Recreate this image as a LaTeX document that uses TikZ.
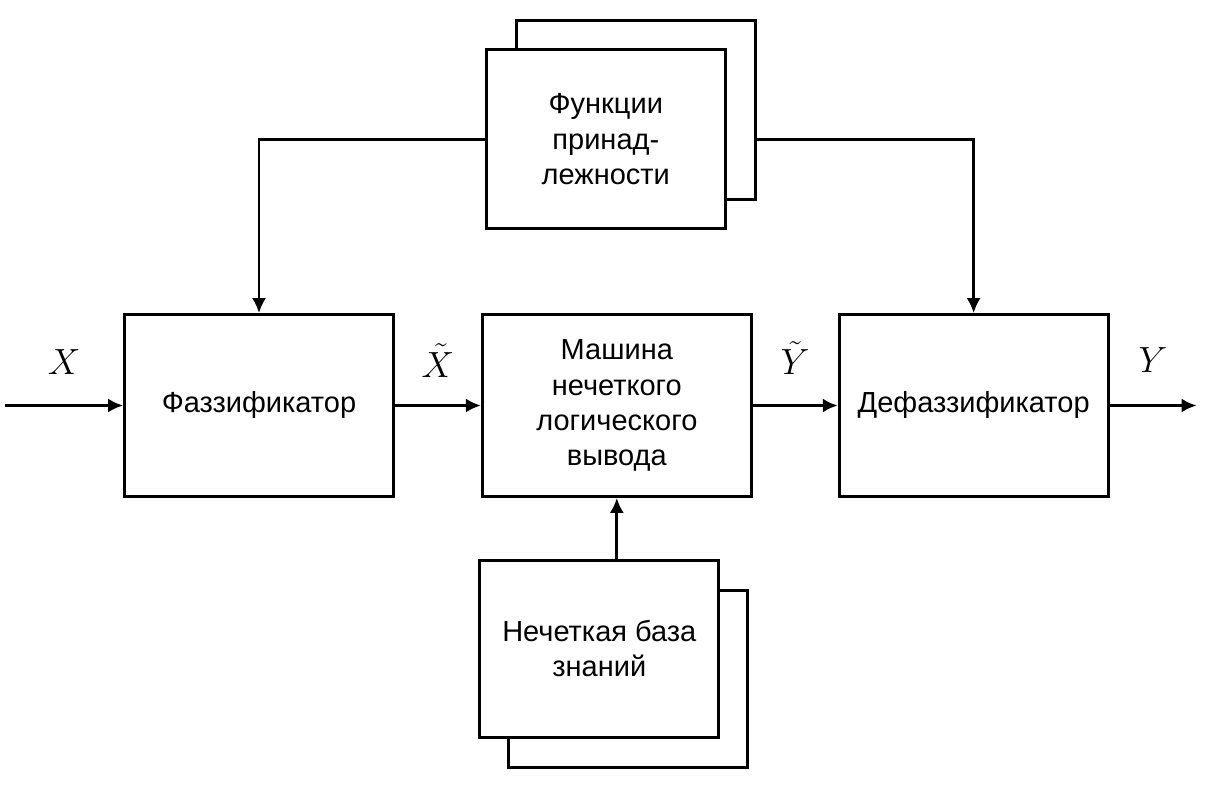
\documentclass[tikz,border=0pt]{standalone}
\usepackage{fontspec}
\setmainfont{Liberation Sans}
\usepackage{tikz}
\usetikzlibrary{arrows.meta,calc,positioning,shadows}

\begin{document}
\begin{tikzpicture}[>={Latex[length=8.5pt,width=8pt]},line width=1.6pt,
	block/.style={draw,fill=white,minimum width=5.38cm,minimum height=3.64cm,align=center,
		font=\fontsize{16.5}{20}\selectfont},
	stack/.style={block,minimum width=4.78cm,minimum height=3.58cm},
	lbl/.style={font=\fontsize{21}{25}\selectfont}]
	\useasboundingbox (0,0) rectangle (24.1,15.72);
	\node[block] (fuzz) at (5.18,7.61) {Фаззификатор};
	\node[block] [right=1.72cm of fuzz] (mash) {Машина\\нечеткого\\логического\\вывода};
	\node[block] [right=1.7cm of mash] (def) {Дефаззификатор};
	\node[stack,copy shadow={shadow xshift=0.6cm,shadow yshift=0.58cm}]
		[above=1.66cm of mash,xshift=-0.22cm] (func) {Функции\\принад-\\лежности};
	\node[stack,minimum height=3.54cm,copy shadow={shadow xshift=0.58cm,shadow yshift=-0.6cm}]
		[below=1.22cm of mash,xshift=-0.35cm] (base) {Нечеткая база\\знаний};
	\coordinate[left=2.36cm of fuzz.west] (xin);
	\coordinate[right=1.74cm of def.east] (yout);
	\path[->]
	(xin) edge node[lbl,midway,yshift=0.86cm] {$X$} (fuzz)
	(fuzz) edge node[lbl,midway,yshift=0.9cm] {$\tilde{X}$} (mash)
	(mash) edge node[lbl,midway,yshift=0.95cm] {$\tilde{Y}$} (def)
	(def) edge node[lbl,midway,yshift=0.9cm] {$Y$} (yout)
	(mash.south |- base.north) edge (mash.south);
	\draw[->] (func.west) -| (fuzz.north);
	\draw[->] ([xshift=0.6cm]func.east) -| (def.north);
\end{tikzpicture}
\end{document}
